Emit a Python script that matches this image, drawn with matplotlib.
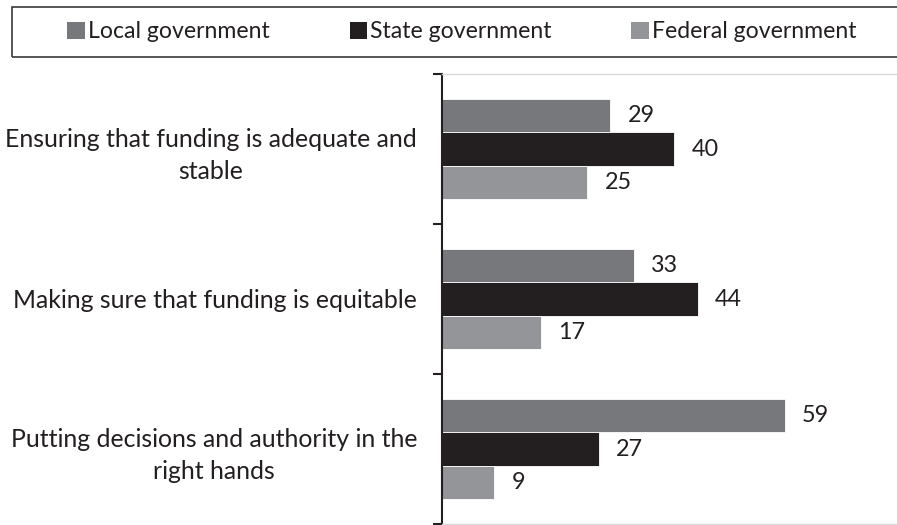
import matplotlib
matplotlib.use('Agg')
import matplotlib.pyplot as plt
from matplotlib.patches import Patch, Rectangle

plt.rcParams['font.family'] = ['Lato', 'DejaVu Sans']

# data
categories = ['Ensuring that funding is adequate and\nstable',
              'Making sure that funding is equitable',
              'Putting decisions and authority in the\nright hands']
series_names = ['Local government', 'State government', 'Federal government']
local_vals = [29, 33, 59]
state_vals = [40, 44, 27]
federal_vals = [25, 17, 9]

COLORS = ['#77787b', '#231f20', '#939598']
TEXT = '#231f20'
FS = 17.9

W, H = 897, 525
fig = plt.figure(figsize=(W / 100, H / 100), dpi=100)
ax = fig.add_axes([442 / W, 1 / H, (W - 442) / W, 450 / H])

bar_h = 0.222
offsets = [-bar_h, 0, bar_h]
all_vals = [local_vals, state_vals, federal_vals]
ypos = list(range(len(categories)))

for vals, off, col in zip(all_vals, offsets, COLORS):
    ys = [y + off for y in ypos]
    ax.barh(ys, vals, height=bar_h, color=col, edgecolor='white', linewidth=0.6)
    for y, v in zip(ys, vals):
        ax.annotate(str(v), xy=(v, y), xytext=(12.5, 0), textcoords='offset points',
                    ha='left', va='center', fontsize=16.8, color=TEXT)

ax.set_xlim(0, (W - 442) / 5.81)
ax.set_ylim(2.5, -0.5)

# category boundaries as major ticks, labels on minor ticks
ax.set_yticks([-0.5, 0.5, 1.5, 2.5])
ax.set_yticklabels([])
ax.set_yticks(ypos, minor=True)
ax.set_yticklabels(categories, minor=True, fontsize=FS, color=TEXT,
                   multialignment='center', linespacing=1.45)
ax.tick_params(axis='y', which='major', direction='out', length=6.5, width=1.5, color=TEXT)
ax.tick_params(axis='y', which='minor', length=0, pad=18)
ax.set_xticks([])

ax.spines['left'].set_color(TEXT)
ax.spines['left'].set_linewidth(1.5)
for s in ['top', 'bottom']:
    ax.spines[s].set_color('#d9d9d9')
    ax.spines[s].set_linewidth(1)
ax.spines['right'].set_visible(False)

# legend box
fig.patches.append(Rectangle((12 / W, 1 - 57 / H), (W + 10 - 12) / W, 50 / H,
                             transform=fig.transFigure, fill=False,
                             edgecolor='#3a3a3a', linewidth=1.2))
handles = [Patch(facecolor=c, edgecolor='none') for c in COLORS]
fig.legend(handles, series_names, loc='center', bbox_to_anchor=(462 / W, 1 - 32 / H),
           ncol=3, frameon=False, fontsize=16.6, handlelength=0.75, handleheight=0.75,
           handletextpad=0.15, columnspacing=3.45, labelcolor=TEXT)

fig.savefig('out.png', dpi=100)
